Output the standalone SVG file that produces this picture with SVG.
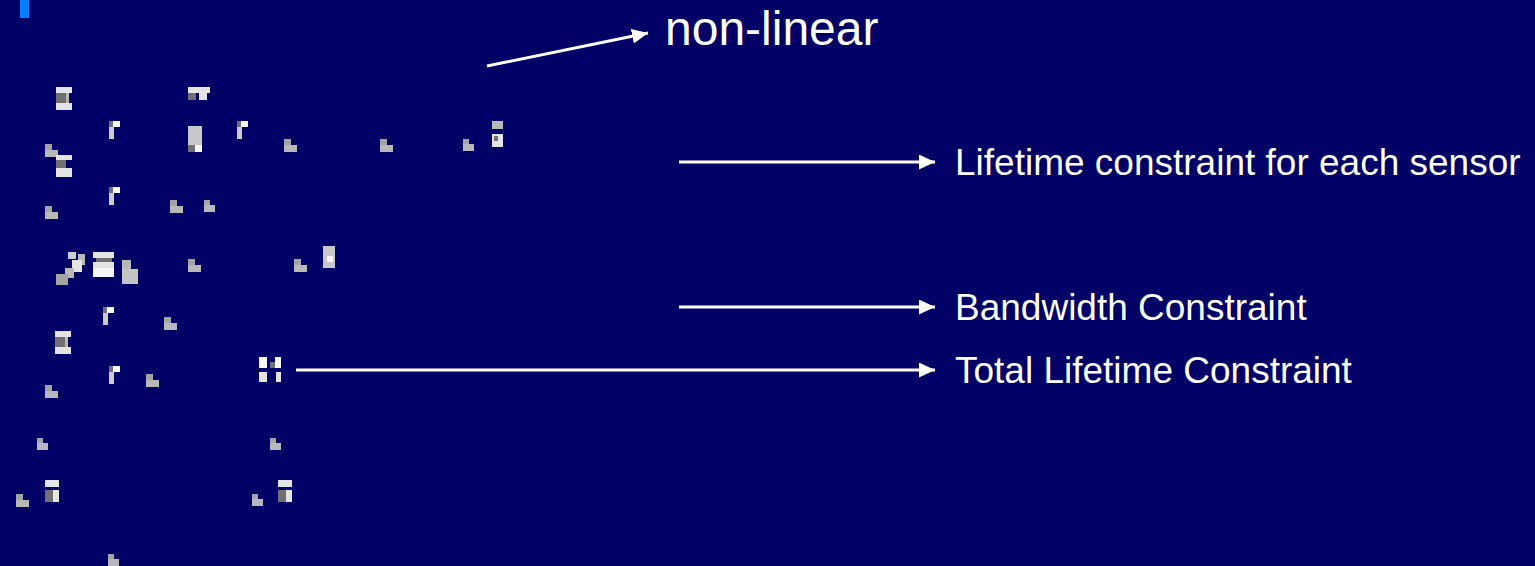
<svg xmlns="http://www.w3.org/2000/svg" xmlns:xlink="http://www.w3.org/1999/xlink" width="1535" height="566" viewBox="0 0 1535 566">
  <style>
    .lbl { font-family: "Liberation Sans", Arial, sans-serif; fill: #ffffff; font-size: 37px; }
    .big { font-size: 48px; }
    .conn { stroke: #ffffff; stroke-width: 3; fill: none; }
    .g1 { fill: #a4a4a4; }
    .g2 { fill: #b8b8b8; }
    .lt { fill: #e4e4e4; }
    .wh { fill: #f6f6f6; }
    .dk { fill: #707070; }
  </style>
  <defs>
    <marker id="arr" markerUnits="userSpaceOnUse" markerWidth="17" markerHeight="16" refX="16" refY="7.5" orient="auto">
      <path d="M0,0 L16,7.5 L0,15 z" fill="#ffffff"/>
    </marker>
    <g id="Lb">
      <rect class="g1" x="0" y="0" width="7" height="7"/>
      <rect class="g2" x="0" y="6" width="13" height="7"/>
    </g>
    <g id="Ls">
      <rect class="g1" x="0" y="0" width="6" height="6"/>
      <rect class="g2" x="0" y="5" width="11" height="7"/>
    </g>
    <g id="Eb">
      <rect class="lt" x="0" y="0" width="16" height="6"/>
      <rect class="dk" x="0" y="6" width="10" height="10"/>
      <rect class="g2" x="10" y="6" width="3" height="10"/>
      <rect class="lt" x="0" y="16" width="16" height="7"/>
    </g>
    <g id="Rb">
      <rect class="dk" x="0" y="0" width="4" height="6"/>
      <rect class="wh" x="4" y="0" width="7" height="6"/>
      <rect fill="#cccccc" x="0" y="6" width="5" height="12"/>
    </g>
    <g id="Bb">
      <rect class="lt" x="0" y="0" width="14" height="7"/>
      <rect class="dk" x="0" y="10" width="8" height="12"/>
      <rect class="lt" x="8" y="10" width="6" height="12"/>
    </g>
  </defs>

  <rect x="0" y="0" width="1535" height="566" fill="#000066"/>
  <rect x="20" y="0" width="9" height="18" fill="#0080ff"/>

  <g id="equation">
    <use xlink:href="#Eb" x="56" y="87"/>
    <rect class="lt" x="188" y="87" width="22" height="6"/>
    <rect class="dk" x="188" y="93" width="8" height="7"/>
    <rect class="lt" x="199" y="93" width="8" height="7"/>
    <use xlink:href="#Rb" x="109" y="121"/>
    <rect fill="#c8c8c8" x="188" y="126" width="14" height="20"/>
    <rect class="dk" x="188" y="145" width="7" height="7"/>
    <rect class="wh" x="195" y="145" width="7" height="7"/>
    <use xlink:href="#Rb" x="237" y="121"/>
    <use xlink:href="#Lb" x="284" y="139"/>
    <use xlink:href="#Lb" x="380" y="139"/>
    <use xlink:href="#Ls" x="463" y="139"/>
    <rect class="g2" x="492" y="121" width="11" height="8"/>
    <rect class="lt" x="492" y="134" width="11" height="13"/>
    <rect class="dk" x="494" y="136" width="4" height="5"/>
    <use xlink:href="#Lb" x="45" y="144"/>
    <rect class="lt" x="56" y="155" width="16" height="5"/>
    <rect class="dk" x="56" y="160" width="10" height="8"/>
    <rect class="lt" x="56" y="168" width="16" height="9"/>
    <use xlink:href="#Rb" x="109" y="187"/>
    <use xlink:href="#Lb" x="45" y="206"/>
    <use xlink:href="#Lb" x="170" y="200"/>
    <use xlink:href="#Ls" x="204" y="200"/>
    <rect fill="#cccccc" x="68" y="252" width="8" height="7"/>
    <rect class="g2" x="78" y="254" width="7" height="11"/>
    <rect class="lt" x="72" y="260" width="10" height="12"/>
    <rect class="g2" x="65" y="268" width="9" height="10"/>
    <rect class="g1" x="56" y="274" width="12" height="11"/>
    <rect class="lt" x="93" y="252" width="21" height="6"/>
    <rect class="dk" x="96" y="258" width="16" height="4"/>
    <rect class="lt" x="93" y="262" width="21" height="6"/>
    <rect class="wh" x="93" y="268" width="21" height="9"/>
    <rect class="g2" x="122" y="260" width="9" height="10"/>
    <rect fill="#c4c4c4" x="122" y="269" width="16" height="15"/>
    <use xlink:href="#Lb" x="188" y="259"/>
    <use xlink:href="#Lb" x="294" y="259"/>
    <rect fill="#c8c8c8" x="323" y="246" width="12" height="22"/>
    <rect class="wh" x="327" y="256" width="6" height="6"/>
    <use xlink:href="#Rb" x="103" y="307"/>
    <use xlink:href="#Lb" x="164" y="317"/>
    <use xlink:href="#Eb" x="55" y="331"/>
    <use xlink:href="#Rb" x="109" y="366"/>
    <use xlink:href="#Lb" x="146" y="374"/>
    <use xlink:href="#Lb" x="45" y="385"/>
    <rect class="wh" x="259" y="357" width="8" height="11"/>
    <rect class="lt" x="259" y="372" width="8" height="10"/>
    <rect class="dk" x="270" y="362" width="5" height="6"/>
    <rect class="wh" x="275" y="357" width="6" height="11"/>
    <rect class="lt" x="276" y="372" width="5" height="10"/>
    <use xlink:href="#Ls" x="37" y="438"/>
    <use xlink:href="#Ls" x="270" y="438"/>
    <use xlink:href="#Bb" x="45" y="480"/>
    <use xlink:href="#Lb" x="16" y="494"/>
    <use xlink:href="#Ls" x="252" y="494"/>
    <use xlink:href="#Bb" x="278" y="480"/>
    <use xlink:href="#Ls" x="108" y="554"/>
  </g>

  <g id="connectors">
    <line class="conn" x1="487" y1="66" x2="648" y2="33" marker-end="url(#arr)"/>
    <line class="conn" x1="679" y1="162" x2="935" y2="162" marker-end="url(#arr)"/>
    <line class="conn" x1="679" y1="307" x2="935" y2="307" marker-end="url(#arr)"/>
    <line class="conn" x1="296" y1="370" x2="935" y2="370" marker-end="url(#arr)"/>
  </g>

  <g id="label-nonlinear"><text class="lbl big" x="665" y="45">non-linear</text></g>
  <g id="label-lifetime"><text class="lbl" x="955" y="175">Lifetime constraint for each sensor</text></g>
  <g id="label-bandwidth"><text class="lbl" x="955" y="320">Bandwidth Constraint</text></g>
  <g id="label-total"><text class="lbl" x="955" y="383">Total Lifetime Constraint</text></g>
</svg>
